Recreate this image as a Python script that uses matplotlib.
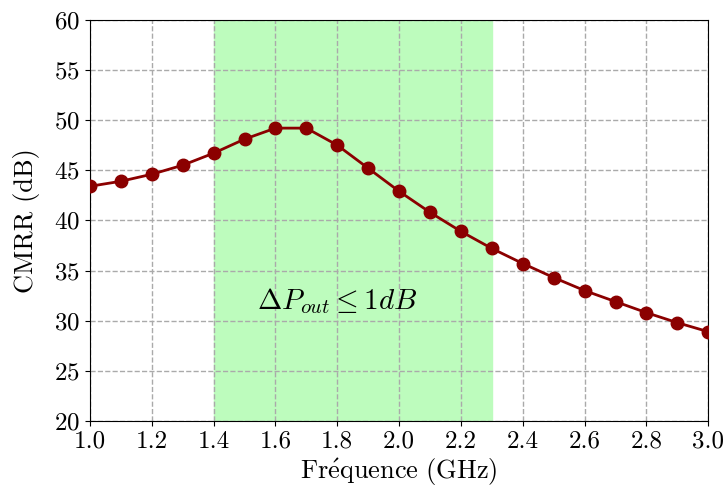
import numpy as np
import matplotlib
matplotlib.use("Agg")
import matplotlib.pyplot as plt

plt.rcParams['font.family'] = ['cmr10', 'DejaVu Serif']
plt.rcParams['mathtext.fontset'] = 'cm'
plt.rcParams['axes.formatter.use_mathtext'] = True
plt.rcParams['axes.unicode_minus'] = False

# data
freq = [1.0, 1.1, 1.2, 1.3, 1.4, 1.5, 1.6, 1.7, 1.8, 1.9, 2.0,
        2.1, 2.2, 2.3, 2.4, 2.5, 2.6, 2.7, 2.8, 2.9, 3.0]
cmrr = [43.4, 43.9, 44.6, 45.5, 46.7, 48.1, 49.2, 49.2, 47.5, 45.2, 42.9,
        40.8, 38.9, 37.2, 35.7, 34.3, 33.0, 31.9, 30.8, 29.8, 28.9]
band = [1.4, 2.3]

fig = plt.figure(figsize=(7.25, 4.95), dpi=100)
ax = fig.add_axes([0.124, 0.1495, 0.853, 0.8105])

ax.axvspan(band[0], band[1], color='#bdfcbd', zorder=0)
ax.plot(freq, cmrr, color='#8b0000', lw=2, marker='o', ms=9, zorder=3)

ax.text(1.8, 32.0, r'$\Delta P_{out} \leq 1dB$', fontsize=21,
        ha='center', va='center')

ax.set_xlim(1.0, 3.0)
ax.set_ylim(20, 60)
ax.set_xticks(np.arange(1.0, 3.01, 0.2))
ax.set_yticks(np.arange(20, 61, 5))
ax.xaxis.set_major_formatter(matplotlib.ticker.FormatStrFormatter('%.1f'))
ax.grid(True, ls='--', color='#aaaaaa', lw=1)
ax.set_axisbelow(True)
ax.tick_params(labelsize=18)

ax.set_xlabel(r'$\mathrm{Fr\acute{e}quence\ (GHz)}$', fontsize=19, labelpad=3)
ax.set_ylabel('CMRR (dB)', fontsize=19, labelpad=10)

fig.savefig('out.png', dpi=100)
